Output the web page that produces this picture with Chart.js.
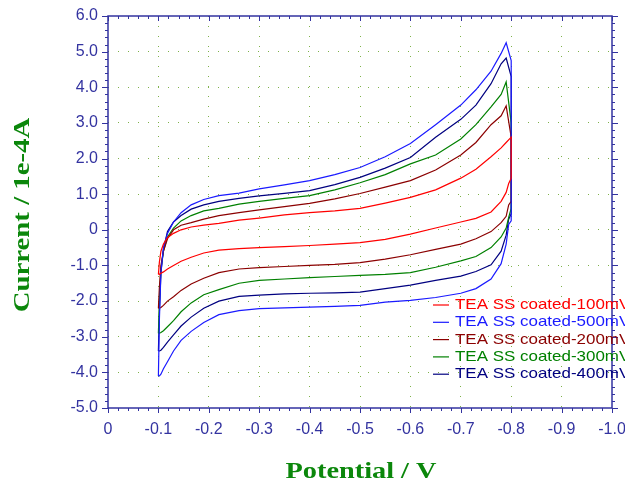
<!DOCTYPE html>
<html>
<head>
<meta charset="utf-8">
<script src="https://cdn.jsdelivr.net/npm/chart.js@4.4.0/dist/chart.umd.min.js"></script>
<style>
  html, body { margin: 0; padding: 0; background: #fff; }
  #box { width: 625px; height: 491px; }
</style>
</head>
<body>
<div id="box"><canvas id="cv"></canvas></div>
<script>
// potential sweep (V): forward -0.1 -> -0.8, then back to -0.1
var potential = [
  -0.100, -0.102, -0.105, -0.110, -0.118, -0.130, -0.145, -0.165, -0.190, -0.220, -0.260, -0.300, -0.350,
  -0.400, -0.450, -0.500, -0.550, -0.600, -0.650, -0.700, -0.730, -0.760, -0.780, -0.790, -0.800,
  -0.800, -0.795, -0.790, -0.780, -0.760, -0.730, -0.700, -0.650, -0.600, -0.550, -0.500, -0.450, -0.400,
  -0.350, -0.300, -0.260, -0.220, -0.190, -0.165, -0.145, -0.130, -0.118, -0.110, -0.105, -0.102, -0.100
];

// current (1e-4 A) for each scan rate, same order as potential
var i100 = [
  -1.25, -0.90, -0.60, -0.40, -0.22, -0.10, 0.00, 0.08, 0.13, 0.18, 0.27, 0.33, 0.42,
  0.48, 0.53, 0.60, 0.75, 0.91, 1.12, 1.45, 1.70, 2.05, 2.30, 2.45, 2.60,
  1.45, 1.30, 1.05, 0.80, 0.50, 0.32, 0.22, 0.05, -0.12, -0.27, -0.36, -0.40, -0.44,
  -0.47, -0.50, -0.53, -0.57, -0.65, -0.77, -0.88, -1.00, -1.10, -1.18, -1.22, -1.25, -1.25
];
var i500 = [
  -4.10, -2.50, -1.20, -0.50, -0.10, 0.22, 0.48, 0.70, 0.85, 0.96, 1.03, 1.15, 1.26,
  1.38, 1.55, 1.75, 2.05, 2.42, 2.95, 3.50, 3.93, 4.45, 4.95, 5.25, 4.75,
  0.25, 0.15, -0.40, -0.95, -1.38, -1.65, -1.78, -1.90, -1.98, -2.03, -2.12, -2.15, -2.17,
  -2.19, -2.21, -2.27, -2.38, -2.60, -2.85, -3.10, -3.40, -3.70, -3.90, -4.05, -4.10, -4.10
];
var i200 = [
  -2.20, -1.60, -1.00, -0.60, -0.25, 0.00, 0.13, 0.20, 0.30, 0.40, 0.48, 0.56, 0.65,
  0.74, 0.87, 1.02, 1.20, 1.38, 1.68, 2.10, 2.45, 2.95, 3.20, 3.48, 2.60,
  0.80, 0.70, 0.38, 0.20, -0.05, -0.25, -0.40, -0.55, -0.70, -0.82, -0.92, -0.97, -1.00,
  -1.03, -1.06, -1.10, -1.20, -1.36, -1.52, -1.70, -1.88, -2.00, -2.12, -2.18, -2.20, -2.20
];
var i300 = [
  -2.90, -2.00, -1.10, -0.60, -0.20, 0.05, 0.25, 0.40, 0.53, 0.60, 0.72, 0.80, 0.88,
  0.96, 1.12, 1.32, 1.55, 1.85, 2.10, 2.55, 2.95, 3.45, 3.80, 4.15, 3.00,
  0.60, 0.35, 0.05, -0.20, -0.50, -0.75, -0.87, -1.05, -1.20, -1.25, -1.28, -1.31, -1.34,
  -1.38, -1.42, -1.50, -1.68, -1.82, -2.05, -2.30, -2.55, -2.72, -2.83, -2.88, -2.90, -2.90
];
var i400 = [
  -3.40, -2.30, -1.20, -0.55, -0.05, 0.22, 0.40, 0.58, 0.70, 0.80, 0.88, 0.95, 1.02,
  1.10, 1.27, 1.47, 1.73, 2.03, 2.60, 3.10, 3.50, 4.10, 4.66, 4.82, 4.30,
  0.45, 0.30, -0.15, -0.60, -0.98, -1.17, -1.30, -1.42, -1.55, -1.65, -1.75, -1.77, -1.78,
  -1.80, -1.83, -1.87, -2.00, -2.20, -2.45, -2.70, -2.95, -3.15, -3.30, -3.38, -3.40, -3.40
];

var labels = ['TEA SS coated-100mV', 'TEA SS coated-500mV', 'TEA SS coated-200mV',
              'TEA SS coated-300mV', 'TEA SS coated-400mV'];
var colors = ['#ff0000', '#1a1aff', '#8b0000', '#008000', '#000080'];
var series = [i100, i500, i200, i300, i400];

var axisColor = '#3333a0';
var titleColor = '#0b870b';
var gridColor = '#7fb24a';

function pts(cur) {
  return potential.map(function (p, i) { return { x: p, y: cur[i] }; });
}

function fmt(v) {
  if (Math.abs(v) < 1e-9) return '0';
  return v.toFixed(1);
}

// frame, minor ticks, titles and the legend inside the plot
var extras = {
  id: 'extras',
  afterDraw: function (chart) {
    var c = chart.ctx, a = chart.chartArea;
    var xs = chart.scales.x, ys = chart.scales.y;
    c.save();
    c.strokeStyle = axisColor;
    c.lineWidth = 1.5;
    c.strokeRect(a.left, a.top, a.right - a.left, a.bottom - a.top);
    c.lineWidth = 1;
    c.beginPath();
    for (var k = 0; k <= 50; k++) {
      var v = -k * 0.02;
      var px = Math.round(xs.getPixelForValue(v)) + 0.5;
      var big = k % 5 === 0 ? 5 : 3;
      c.moveTo(px, a.bottom); c.lineTo(px, a.bottom + big);
      c.moveTo(px, a.top); c.lineTo(px, a.top + big);
    }
    for (var j = 0; j <= 55; j++) {
      var w = -5 + j * 0.2;
      var py = Math.round(ys.getPixelForValue(w)) + 0.5;
      var len = j % 5 === 0 ? 6 : 3;
      c.moveTo(a.left - len, py); c.lineTo(a.left, py);
      c.moveTo(a.right, py); c.lineTo(a.right + len, py);
    }
    c.stroke();

    // axis titles
    c.fillStyle = titleColor;
    c.font = 'bold 24px "Liberation Serif", "Times New Roman", serif';
    c.textAlign = 'center';
    c.textBaseline = 'middle';
    c.save();
    c.translate(361, 472);
    c.scale(1.18, 1);
    c.fillText('Potential / V', 0, 0);
    c.restore();
    c.save();
    c.translate(23, 215);
    c.rotate(-Math.PI / 2);
    c.scale(1.2, 1);
    c.fillText('Current / 1e-4A', 0, 0);
    c.restore();

    // legend
    c.font = '15px "Liberation Sans", Arial, sans-serif';
    c.textAlign = 'left';
    for (var n = 0; n < labels.length; n++) {
      var ly = 305 + n * 17.3;
      c.strokeStyle = colors[n];
      c.lineWidth = 1.2;
      c.beginPath();
      c.moveTo(433, ly); c.lineTo(449, ly);
      c.stroke();
      c.fillStyle = colors[n];
      c.save();
      c.translate(455, ly);
      c.scale(1.13, 1);
      c.fillText(labels[n], 0, 0);
      c.restore();
    }
    c.restore();
  }
};

var datasets = series.map(function (s, n) {
  return {
    label: labels[n],
    data: pts(s),
    borderColor: colors[n],
    borderWidth: 1.2,
    pointRadius: 0,
    tension: 0,
    fill: false
  };
});

new Chart(document.getElementById('cv'), {
  type: 'line',
  data: { datasets: datasets },
  options: {
    responsive: true,
    maintainAspectRatio: false,
    animation: false,
    layout: { autoPadding: false, padding: { left: 0, top: 16, right: 13, bottom: 0 } },
    plugins: { legend: { display: false }, tooltip: { enabled: false } },
    scales: {
      x: {
        type: 'linear',
        min: -1.0,
        max: 0,
        reverse: true,
        afterFit: function (s) { s.height = 83; s.paddingLeft = 0; s.paddingRight = 0; },
        ticks: {
          stepSize: 0.1,
          padding: 12,
          color: axisColor,
          font: { family: '"Liberation Sans", Arial, sans-serif', size: 16 },
          maxRotation: 0,
          callback: function (v) { return fmt(v); }
        },
        grid: {
          drawTicks: false,
          lineWidth: 1,
          color: function (ctx) {
            var v = ctx.tick ? ctx.tick.value : 0;
            return (Math.abs(v) < 1e-9 || Math.abs(v + 1) < 1e-9) ? 'rgba(0,0,0,0)' : gridColor;
          }
        },
        border: { display: false, dash: [1, 9] }
      },
      y: {
        min: -5,
        max: 6,
        afterFit: function (s) { s.width = 108; s.paddingTop = 0; s.paddingBottom = 0; },
        ticks: {
          stepSize: 1,
          padding: 10,
          color: axisColor,
          font: { family: '"Liberation Sans", Arial, sans-serif', size: 16 },
          callback: function (v) { return fmt(v); }
        },
        grid: {
          drawTicks: false,
          lineWidth: 1,
          color: function (ctx) {
            var v = ctx.tick ? ctx.tick.value : 0;
            return (Math.abs(v - 6) < 1e-9 || Math.abs(v + 5) < 1e-9) ? 'rgba(0,0,0,0)' : gridColor;
          }
        },
        border: { display: false, dash: [1, 9] }
      }
    }
  },
  plugins: [extras]
});
</script>
</body>
</html>
